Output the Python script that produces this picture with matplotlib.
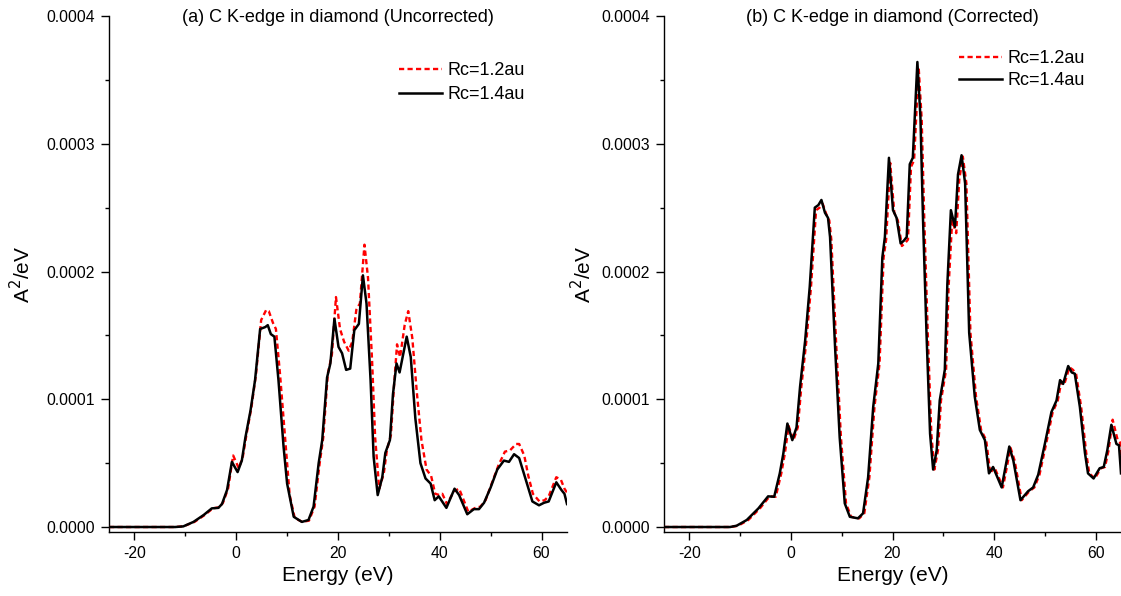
import matplotlib
matplotlib.use("Agg")
import matplotlib.pyplot as plt
from matplotlib.ticker import MultipleLocator, FuncFormatter

plt.rcParams['font.family'] = ['Liberation Sans', 'DejaVu Sans']
plt.rcParams['axes.unicode_minus'] = False

# ---------------- data (values in units of 1e-4 A^2/eV) ----------------
# Panel (a) uncorrected, Rc = 1.4 au (black)
a_black_E = [-25, -12, -10.4, -8.4, -6.4, -4.8, -3.5, -2.8, -1.8, -0.85, 0.27, 1.1, 1.8, 2.8, 3.7,
             4.7, 5.7, 6.2, 6.8, 7.5, 8.3, 9.3, 10.0, 11.3, 12.9, 14.2, 15.2, 16.2, 16.9, 17.85,
             18.5, 19.3, 20.1, 20.8, 21.6, 22.4, 23.2, 24.1, 24.9, 25.6, 26.4, 27.0, 27.8, 28.7,
             29.3, 30.2, 30.8, 31.5, 32.1, 33.5, 34.3, 35.2, 36.2, 37.2, 38.2, 39.0, 39.8, 41.3,
             42.9, 43.8, 45.4, 46.7, 47.7, 48.7, 50.0, 51.3, 52.6, 53.6, 54.6, 55.6, 56.9, 58.2,
             59.5, 60.5, 61.4, 62.9, 63.9, 64.5, 65.0]
a_black_v = [0.0, 0.0, 0.005, 0.04, 0.094, 0.146, 0.15, 0.18, 0.29, 0.51, 0.43, 0.52, 0.70, 0.91, 1.15,
             1.55, 1.565, 1.58, 1.51, 1.49, 1.15, 0.63, 0.34, 0.08, 0.04, 0.055, 0.16, 0.50, 0.68, 1.17,
             1.28, 1.63, 1.41, 1.36, 1.23, 1.24, 1.54, 1.59, 1.97, 1.75, 1.15, 0.55, 0.25, 0.39,
             0.58, 0.68, 1.04, 1.28, 1.21, 1.49, 1.33, 0.85, 0.50, 0.38, 0.34, 0.21, 0.24, 0.15,
             0.30, 0.25, 0.10, 0.14, 0.14, 0.19, 0.31, 0.45, 0.52, 0.51, 0.57, 0.54, 0.37, 0.20,
             0.17, 0.19, 0.20, 0.35, 0.29, 0.26, 0.18]

# Panel (a) uncorrected, Rc = 1.2 au (red)
a_red_E = [-25, -12, -10.4, -8.2, -6.2, -4.6, -3.3, -2.6, -1.6, -0.6, 0.5, 1.3, 2.0, 3.0, 3.9,
           4.9, 5.9, 6.4, 7.2, 7.8, 8.6, 9.6, 10.5, 11.5, 13.0, 14.3, 15.4, 16.4, 17.1, 18.0,
           18.8, 19.6, 20.4, 21.2, 22.1, 22.8, 23.6, 24.3, 25.2, 25.9, 26.7, 27.3, 28.1, 29.0,
           29.6, 30.4, 31.0, 31.6, 32.2, 33.1, 33.8, 34.6, 35.5, 36.4, 37.4, 38.3, 39.1, 40.0,
           40.5, 41.4, 42.8, 43.8, 44.6, 45.6, 47.0, 48.0, 49.0, 50.2, 51.5, 52.8, 53.8, 55.0,
           55.6, 56.6, 57.4, 58.3, 59.6, 60.6, 61.4, 62.9, 63.8, 64.5, 65.0]
a_red_v = [0.0, 0.0, 0.005, 0.04, 0.094, 0.146, 0.155, 0.19, 0.30, 0.56, 0.46, 0.55, 0.72, 0.94, 1.20,
           1.62, 1.70, 1.69, 1.60, 1.55, 1.20, 0.70, 0.25, 0.07, 0.04, 0.05, 0.16, 0.50, 0.70, 1.20,
           1.35, 1.80, 1.55, 1.45, 1.38, 1.45, 1.70, 1.75, 2.21, 1.95, 1.30, 0.70, 0.30, 0.42,
           0.60, 0.72, 1.10, 1.43, 1.33, 1.58, 1.69, 1.48, 1.05, 0.68, 0.45, 0.40, 0.26, 0.25,
           0.26, 0.18, 0.28, 0.30, 0.22, 0.12, 0.15, 0.16, 0.21, 0.34, 0.48, 0.59, 0.60, 0.65,
           0.65, 0.56, 0.40, 0.26, 0.20, 0.21, 0.24, 0.39, 0.37, 0.30, 0.27]

# Panel (b) corrected, Rc = 1.4 au (black)
b_black_E = [-25, -12, -10.7, -8.7, -6.4, -4.5, -3.3, -2.2, -1.5, -0.7, 0.27, 1.1, 1.8, 2.8, 3.7,
             4.7, 5.4, 6.0, 6.7, 7.3, 7.7, 8.7, 9.6, 10.6, 11.6, 13.2, 14.2, 15.2, 16.2, 17.2,
             18.0, 18.5, 19.3, 20.1, 20.8, 21.6, 22.2, 22.8, 23.4, 24.0, 24.9, 25.5, 26.0, 26.7,
             27.4, 28.0, 28.7, 29.3, 30.3, 30.8, 31.5, 32.3, 32.9, 33.6, 34.3, 35.1, 36.2, 37.2,
             38.2, 39.0, 39.8, 41.5, 43.0, 43.8, 45.2, 46.7, 47.7, 48.7, 50.0, 51.3, 52.3, 53.0,
             53.6, 54.6, 55.3, 55.9, 56.9, 57.9, 58.5, 59.6, 60.8, 61.6, 62.3, 63.1, 64.1, 64.6, 65.0]
b_black_v = [0.0, 0.0, 0.01, 0.055, 0.146, 0.24, 0.237, 0.42, 0.575, 0.81, 0.68, 0.78, 1.10, 1.46, 1.88,
             2.50, 2.52, 2.56, 2.46, 2.42, 2.27, 1.40, 0.70, 0.185, 0.08, 0.068, 0.107, 0.39, 0.94, 1.28,
             2.11, 2.27, 2.89, 2.48, 2.42, 2.22, 2.24, 2.27, 2.84, 2.89, 3.64, 3.21, 2.42, 1.51,
             0.73, 0.45, 0.60, 0.99, 1.23, 1.90, 2.48, 2.35, 2.76, 2.91, 2.69, 1.52, 1.02, 0.76,
             0.68, 0.42, 0.47, 0.31, 0.63, 0.52, 0.21, 0.28, 0.31, 0.41, 0.65, 0.90, 0.99, 1.15,
             1.12, 1.26, 1.21, 1.20, 0.94, 0.58, 0.42, 0.38, 0.46, 0.47, 0.60, 0.80, 0.65, 0.64, 0.42]

# Panel (b) corrected, Rc = 1.2 au (red)
b_red_E = [-25, -12, -10.4, -8.4, -6.1, -4.2, -3.0, -1.9, -1.2, -0.45, 0.5, 1.35, 2.05, 3.05, 3.95,
           4.95, 5.65, 6.25, 6.95, 7.55, 7.95, 8.95, 9.85, 10.85, 11.85, 13.45, 14.45, 15.45, 16.45, 17.45,
           18.25, 18.75, 19.55, 20.35, 21.05, 21.85, 22.45, 23.05, 23.65, 24.25, 25.15, 25.75, 26.25, 26.95,
           27.65, 28.25, 28.95, 29.55, 30.55, 31.05, 31.75, 32.55, 33.15, 33.85, 34.55, 35.35, 36.45, 37.45,
           38.45, 39.25, 40.05, 41.75, 43.25, 44.05, 45.45, 46.95, 47.95, 48.95, 50.25, 51.55, 52.55, 53.25,
           53.85, 54.85, 55.55, 56.15, 57.15, 58.15, 58.75, 59.85, 61.05, 61.85, 62.55, 63.35, 64.35, 64.85, 65.0]
b_red_v = [0.0, 0.0, 0.01, 0.055, 0.146, 0.24, 0.237, 0.42, 0.575, 0.79, 0.68, 0.78, 1.10, 1.46, 1.88,
           2.48, 2.50, 2.53, 2.45, 2.40, 2.25, 1.40, 0.70, 0.185, 0.08, 0.068, 0.107, 0.39, 0.94, 1.28,
           2.11, 2.25, 2.85, 2.46, 2.40, 2.20, 2.22, 2.25, 2.82, 2.87, 3.60, 3.19, 2.42, 1.51,
           0.73, 0.45, 0.60, 0.99, 1.23, 1.88, 2.40, 2.30, 2.72, 2.90, 2.69, 1.52, 1.02, 0.76,
           0.68, 0.42, 0.47, 0.31, 0.62, 0.52, 0.21, 0.28, 0.31, 0.41, 0.65, 0.90, 0.99, 1.14,
           1.12, 1.25, 1.23, 1.20, 0.94, 0.58, 0.42, 0.38, 0.46, 0.47, 0.60, 0.84, 0.68, 0.66, 0.50]

titles = ["(a) C K-edge in diamond (Uncorrected)", "(b) C K-edge in diamond (Corrected)"]
labels = ["Rc=1.2au", "Rc=1.4au"]
scale = 1e-4

fig = plt.figure(figsize=(11.21, 5.96), dpi=100)
W, H = 1121, 596
panels = [
    dict(left=109, right=567, red=(a_red_E, a_red_v), black=(a_black_E, a_black_v),
         title=titles[0], leg=(0.605, 0.935), lsp=0.37, ylab_x=-0.163),
    dict(left=664, right=1121, red=(b_red_E, b_red_v), black=(b_black_E, b_black_v),
         title=titles[1], leg=(0.617, 0.958), lsp=0.26, ylab_x=-0.15),
]
top_px, bot_px = 16, 532

for p in panels:
    ax = fig.add_axes([p['left'] / W, (H - bot_px) / H,
                       (p['right'] - p['left']) / W, (bot_px - top_px) / H])
    rE, rv = p['red']
    bE, bv = p['black']
    ax.plot(rE, [v * scale for v in rv], color='#ff0000', lw=1.7,
            linestyle=(0, (2.2, 1.4)), label=labels[0], zorder=3)
    ax.plot(bE, [v * scale for v in bv], color='black', lw=1.8, label=labels[1], zorder=4)
    ax.set_xlim(-25, 65)
    ax.set_ylim(-0.0000039, 0.0004)
    ax.spines['top'].set_visible(False)
    ax.spines['right'].set_visible(False)
    for s in ('left', 'bottom'):
        ax.spines[s].set_linewidth(1.0)
    ax.set_xticks([-20, 0, 20, 40, 60])
    ax.xaxis.set_minor_locator(MultipleLocator(10))
    ax.set_yticks([0.0, 0.0001, 0.0002, 0.0003, 0.0004])
    ax.yaxis.set_minor_locator(MultipleLocator(0.00005))
    ax.yaxis.set_major_formatter(FuncFormatter(lambda v, pos: f"{v:.4f}"))
    ax.tick_params(which='major', direction='out', length=6, width=1.0, labelsize=11.3, pad=4)
    ax.tick_params(which='minor', direction='out', length=3, width=1.0)
    ax.set_xlabel("Energy (eV)", fontsize=15)
    ax.xaxis.set_label_coords(0.5, -0.066)
    ax.set_ylabel("A$^2$/eV", fontsize=15)
    ax.yaxis.set_label_coords(p['ylab_x'], 0.5)
    ax.text(0.5, 0.998, p['title'], transform=ax.transAxes, ha='center', va='center',
            fontsize=13)
    ax.legend(loc='upper left', bbox_to_anchor=p['leg'], frameon=False, fontsize=13,
              handlelength=2.4, handletextpad=0.3, labelspacing=p['lsp'], borderpad=0.2)

fig.savefig("out.png", dpi=100)
